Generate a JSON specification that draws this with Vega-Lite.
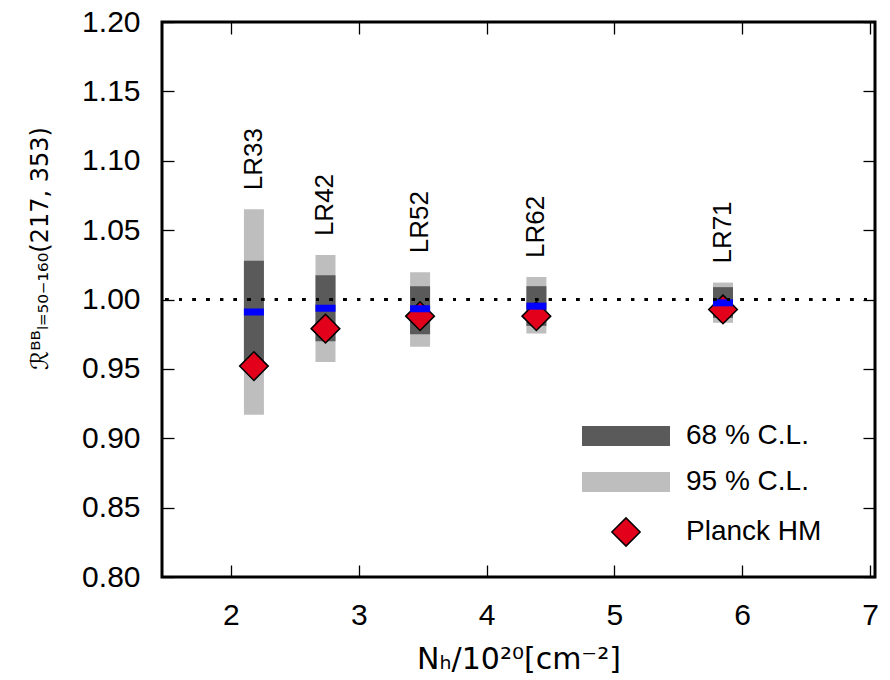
{
  "$schema": "https://vega.github.io/schema/vega-lite/v6.json",
  "width": 713,
  "height": 555,
  "autosize": {"type": "none"},
  "padding": {"left": 162, "top": 22, "right": 15, "bottom": 103},
  "data": {
    "values": [
      {"name": "LR33", "x": 2.18, "lo95": 0.917, "hi95": 1.065, "lo68": 0.954, "hi68": 1.028, "med": 0.991, "hm": 0.952},
      {"name": "LR42", "x": 2.74, "lo95": 0.955, "hi95": 1.032, "lo68": 0.970, "hi68": 1.0175, "med": 0.9937, "hm": 0.979},
      {"name": "LR52", "x": 3.48, "lo95": 0.966, "hi95": 1.0196, "lo68": 0.975, "hi68": 1.0096, "med": 0.9933, "hm": 0.988},
      {"name": "LR62", "x": 4.39, "lo95": 0.9755, "hi95": 1.0163, "lo68": 0.981, "hi68": 1.0096, "med": 0.9952, "hm": 0.988},
      {"name": "LR71", "x": 5.85, "lo95": 0.9832, "hi95": 1.0122, "lo68": 0.9868, "hi68": 1.0089, "med": 0.9976, "hm": 0.9928}
    ]
  },
  "resolve": {"axis": {"x": "independent", "y": "independent"}},
  "layer": [
    {
      "mark": {"type": "bar", "width": 20, "orient": "vertical"},
      "encoding": {
        "x": {"field": "x", "type": "quantitative",
              "scale": {"domain": [1.5, 7], "nice": false, "zero": false},
              "axis": {"values": [2, 3, 4, 5, 6, 7], "format": "d", "tickSize": -12, "labelPadding": 35,
                       "title": "Nₕ/10²⁰[cm⁻²]", "titlePadding": 14, "titleFontSize": 30}},
        "y": {"field": "lo95", "type": "quantitative",
              "scale": {"domain": [0.8, 1.2], "nice": false, "zero": false},
              "axis": {"values": [0.8, 0.85, 0.9, 0.95, 1.0, 1.05, 1.1, 1.15, 1.2], "format": ".2f", "tickSize": -12, "labelPadding": 34,
                       "title": "ℛᴮᴮₗ₌₅₀₋₁₆₀(217, 353)", "titleFontSize": 24,
                       "titleAngle": 270, "titleAlign": "center", "titleBaseline": "middle", "titleX": -122, "titleY": 226}},
        "y2": {"field": "hi95"},
        "color": {"datum": "95 % C.L.", "type": "nominal",
                  "scale": {"domain": ["68 % C.L.", "95 % C.L.", "Planck HM"], "range": ["#5a5a5a", "#bebebe", "#e2001a"]},
                  "legend": {"orient": "none", "legendX": 450, "legendY": 400, "title": null, "padding": 0,
                             "symbolSize": 400, "symbolStrokeWidth": 1.5,
                             "labelFontSize": 28, "labelFont": "Liberation Sans", "labelColor": "black", "labelOffset": 46, "rowPadding": 18,
                             "encode": {"symbols": {"update": {
                               "shape": {"signal": "datum.value === 'Planck HM' ? 'diamond' : 'M-4.4,-1L4.4,-1L4.4,1L-4.4,1Z'"},
                               "size": {"signal": "datum.value === 'Planck HM' ? 800 : 400"},
                               "stroke": {"signal": "datum.value === 'Planck HM' ? 'black' : 'transparent'"},
                               "strokeWidth": {"value": 1.5},
                               "opacity": {"value": 1}
                             }}}}}
      }
    },
    {
      "mark": {"type": "bar", "width": 20, "orient": "vertical"},
      "encoding": {
        "x": {"field": "x", "type": "quantitative", "axis": null},
        "y": {"field": "lo68", "type": "quantitative", "axis": null},
        "y2": {"field": "hi68"},
        "color": {"datum": "68 % C.L.", "type": "nominal"}
      }
    },
    {
      "mark": {"type": "point", "shape": "diamond", "filled": true, "size": 820, "stroke": "black", "strokeWidth": 1.5, "opacity": 1},
      "encoding": {
        "x": {"field": "x", "type": "quantitative", "axis": null},
        "y": {"field": "hm", "type": "quantitative", "axis": null},
        "color": {"datum": "Planck HM", "type": "nominal"}
      }
    },
    {
      "mark": {"type": "tick", "orient": "horizontal", "color": "#0000ff", "size": 20, "thickness": 7, "opacity": 1},
      "encoding": {
        "x": {"field": "x", "type": "quantitative",
              "axis": {"orient": "top", "values": [2, 3, 4, 5, 6, 7], "labels": false, "title": null, "tickSize": -12, "domain": false, "grid": false}},
        "y": {"field": "med", "type": "quantitative",
              "axis": {"orient": "right", "values": [0.8, 0.85, 0.9, 0.95, 1.0, 1.05, 1.1, 1.15, 1.2], "labels": false, "title": null, "tickSize": -12, "domain": false, "grid": false}}
      }
    },
    {
      "mark": {"type": "rule", "color": "black", "strokeWidth": 3, "strokeDash": [3, 10.7], "strokeDashOffset": 5.7},
      "encoding": {
        "y": {"datum": 1.0, "type": "quantitative", "axis": null}
      }
    },
    {
      "mark": {"type": "text", "angle": 270, "align": "left", "baseline": "middle", "dx": 19, "fontSize": 26, "font": "Liberation Sans", "color": "black"},
      "encoding": {
        "x": {"field": "x", "type": "quantitative", "axis": null},
        "y": {"field": "hi95", "type": "quantitative", "axis": null},
        "text": {"field": "name"}
      }
    }
  ],
  "config": {
    "view": {"stroke": "black", "strokeWidth": 3},
    "axis": {
      "domain": false, "grid": false, "tickColor": "black", "tickWidth": 1.3,
      "labelFont": "Liberation Sans", "labelFontSize": 30, "labelColor": "black",
      "titleFont": "DejaVu Sans", "titleFontSize": 28, "titleFontWeight": "normal", "titleColor": "black"
    }
  }
}
